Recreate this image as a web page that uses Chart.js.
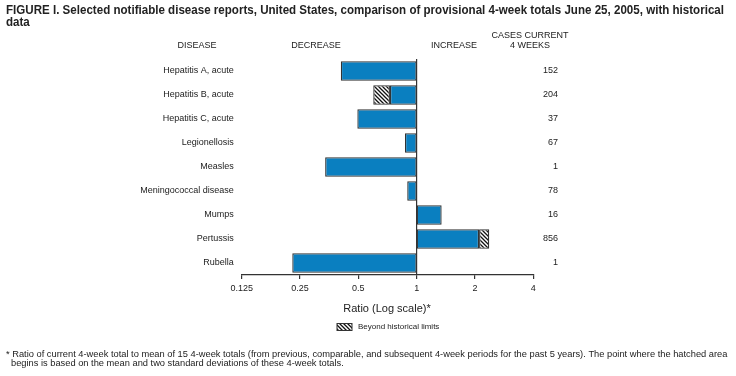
<!DOCTYPE html>
<html>
<head>
<meta charset="utf-8">
<script src="https://cdn.jsdelivr.net/npm/chart.js@4/dist/chart.umd.min.js"></script>
<style>
  html, body { margin: 0; padding: 0; background: #fff; }
  #wrap { width: 736px; height: 376px; position: relative; }
</style>
</head>
<body>
<div id="wrap"><canvas id="c" width="736" height="376"></canvas></div>
<script>
// ---- Data ----
const diseases = ['Hepatitis A, acute', 'Hepatitis B, acute', 'Hepatitis C, acute', 'Legionellosis',
  'Measles', 'Meningococcal disease', 'Mumps', 'Pertussis', 'Rubella'];
const ratios = [0.406, 0.728, 0.494, 0.87, 0.337, 0.894, 1.346, 2.10, 0.228];
const beyondLow = [null, 0.597, null, null, null, null, null, 2.10, null];
const beyondHigh = [null, 0.728, null, null, null, null, null, 2.37, null];
const cases = ['152', '204', '37', '67', '1', '78', '16', '856', '1'];
const tickValues = [0.125, 0.25, 0.5, 1, 2, 4];
const tickLabels = ['0.125', '0.25', '0.5', '1', '2', '4'];

const FONT = '"Liberation Sans", Arial, sans-serif';
const TEXT = '#222';
const BLUE = '#0a7fc0';
const EDGE = '#333';

function makeHatch() {
  const p = document.createElement('canvas');
  p.width = 4; p.height = 4;
  const g = p.getContext('2d');
  g.fillStyle = '#fff'; g.fillRect(0, 0, 4, 4);
  g.strokeStyle = '#111'; g.lineWidth = 1.3;
  g.beginPath();
  g.moveTo(-1, -1); g.lineTo(5, 5);
  g.moveTo(-1, 3); g.lineTo(1, 5);
  g.moveTo(3, -1); g.lineTo(5, 1);
  g.stroke();
  return g.createPattern(p, 'repeat');
}
const hatch = makeHatch();

// draw text condensed horizontally to fit a target width
function fillFit(ctx, text, x, y, width) {
  const w = ctx.measureText(text).width;
  const s = Math.min(1, width / w);
  ctx.save();
  ctx.translate(x, y);
  ctx.scale(s, 1);
  ctx.fillText(text, 0, 0);
  ctx.restore();
  return s;
}

const textPlugin = {
  id: 'texts',
  afterDraw(chart) {
    const ctx = chart.ctx;
    const y = chart.scales.y;
    ctx.save();
    ctx.fillStyle = TEXT;
    ctx.textBaseline = 'middle';
    // title
    ctx.font = 'bold 12.5px ' + FONT;
    ctx.textAlign = 'left';
    const t1 = 'FIGURE I. Selected notifiable disease reports, United States, comparison of provisional 4-week totals June 25, 2005, with historical';
    const s = fillFit(ctx, t1, 6, 11, 718);
    ctx.save(); ctx.translate(6, 23); ctx.scale(s, 1); ctx.fillText('data', 0, 0); ctx.restore();
    // headers
    ctx.font = '9px ' + FONT;
    ctx.textAlign = 'center';
    ctx.fillText('DISEASE', 197, 46);
    ctx.fillText('DECREASE', 316, 46);
    ctx.fillText('INCREASE', 454, 46);
    ctx.fillText('CASES CURRENT', 530, 36);
    ctx.fillText('4 WEEKS', 530, 46);
    // cases column
    ctx.textAlign = 'right';
    cases.forEach((c, i) => ctx.fillText(c, 558, y.getPixelForValue(i)));
    // axis title
    ctx.textAlign = 'center';
    ctx.font = '11px ' + FONT;
    ctx.fillText('Ratio (Log scale)*', 387, 309);
    // legend
    ctx.fillStyle = hatch;
    ctx.fillRect(337, 323.5, 15, 7);
    ctx.strokeStyle = EDGE; ctx.lineWidth = 1;
    ctx.strokeRect(337, 323.5, 15, 7);
    ctx.fillStyle = TEXT;
    ctx.font = '8px ' + FONT;
    ctx.textAlign = 'left';
    ctx.fillText('Beyond historical limits', 358, 327);
    // footnote
    ctx.font = '9.3px ' + FONT;
    fillFit(ctx, '* Ratio of current 4-week total to mean of 15 4-week totals (from previous, comparable, and subsequent 4-week periods for the past 5 years). The point where the hatched area', 6, 354, 722);
    fillFit(ctx, 'begins is based on the mean and two standard deviations of these 4-week totals.', 11, 363.5, 334);
    ctx.restore();
  }
};

new Chart(document.getElementById('c'), {
  type: 'bar',
  data: {
    labels: diseases,
    datasets: [
      {
        label: 'Ratio',
        data: ratios.map(r => [Math.min(r, 1), Math.max(r, 1)]),
        backgroundColor: BLUE,
        borderColor: EDGE,
        borderWidth: 1.3,
        borderSkipped: false,
        grouped: false,
        barPercentage: 0.82,
        categoryPercentage: 1
      },
      {
        label: 'Beyond historical limits',
        data: beyondLow.map((lo, i) => lo === null ? null : [lo, beyondHigh[i]]),
        backgroundColor: hatch,
        borderColor: EDGE,
        borderWidth: 1.3,
        borderSkipped: false,
        grouped: false,
        barPercentage: 0.82,
        categoryPercentage: 1
      }
    ]
  },
  options: {
    indexAxis: 'y',
    responsive: false,
    animation: false,
    layout: { padding: { left: 0, right: 202.7, top: 59, bottom: 71 } },
    plugins: { legend: { display: false }, tooltip: { enabled: false } },
    scales: {
      x: {
        type: 'logarithmic',
        min: 0.125,
        max: 4,
        afterBuildTicks: s => { s.ticks = tickValues.map(v => ({ value: v })); },
        afterFit: s => { s.height = 30; },
        ticks: {
          autoSkip: false,
          maxRotation: 0,
          padding: 4,
          color: TEXT,
          font: { family: FONT, size: 9 },
          callback: (v, i) => tickLabels[i]
        },
        grid: {
          drawOnChartArea: true,
          drawTicks: true,
          tickLength: 4,
          tickColor: EDGE,
          color: c => (c.tick && c.tick.value === 1) ? EDGE : 'rgba(0,0,0,0)',
          lineWidth: 1.2
        },
        border: { display: true, color: EDGE, width: 1.2 }
      },
      y: {
        afterFit: s => { s.width = 241.7; },
        ticks: {
          padding: 8,
          color: TEXT,
          font: { family: FONT, size: 9 }
        },
        grid: { display: false, drawTicks: false },
        border: { display: false }
      }
    }
  },
  plugins: [textPlugin]
});
</script>
</body>
</html>
